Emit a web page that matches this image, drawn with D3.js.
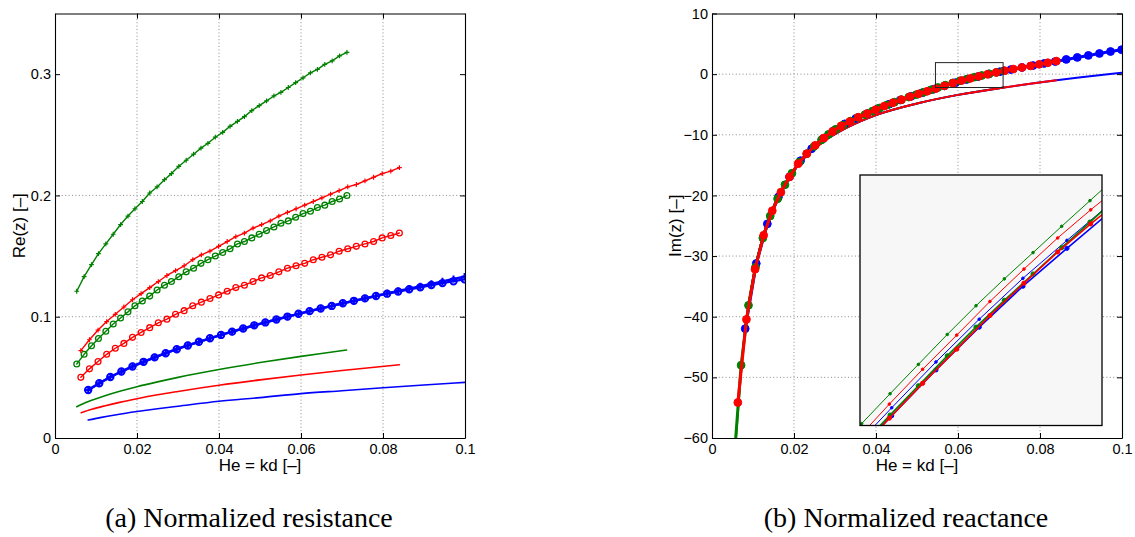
<!DOCTYPE html>
<html>
<head>
<meta charset="utf-8">
<script src="https://cdn.jsdelivr.net/npm/d3@7"></script>
<style>
  body { margin: 0; background: #fff; }
</style>
</head>
<body>
<svg id="chart" width="1135" height="537"></svg>
<script>
// ---- data -------------------------------------------------------------
const tickX = [0, 0.02, 0.04, 0.06, 0.08, 0.1];
const tickXLabels = ['0', '0.02', '0.04', '0.06', '0.08', '0.1'];
const reTicks = [0, 0.1, 0.2, 0.3];
const reTickLabels = ['0', '0.1', '0.2', '0.3'];
const imTicks = [-60, -50, -40, -30, -20, -10, 0, 10];
const imTickLabels = ['\u221260', '\u221250', '\u221240', '\u221230', '\u221220', '\u221210', '0', '10'];

const greenX = [0.0053, 0.0071, 0.0089, 0.0106, 0.0124, 0.0142, 0.0160, 0.0178, 0.0195, 0.0213,
    0.0231, 0.0249, 0.0267, 0.0284, 0.0302, 0.0320, 0.0338, 0.0356, 0.0373, 0.0391,
    0.0409, 0.0427, 0.0445, 0.0462, 0.0480, 0.0498, 0.0516, 0.0534, 0.0551, 0.0569,
    0.0587, 0.0605, 0.0623, 0.0640, 0.0658, 0.0676, 0.0694, 0.0712];
const redX = [0.0063, 0.0084, 0.0105, 0.0126, 0.0147, 0.0168, 0.0189, 0.0210, 0.0231, 0.0252,
    0.0273, 0.0294, 0.0315, 0.0336, 0.0357, 0.0378, 0.0399, 0.0420, 0.0441, 0.0462,
    0.0483, 0.0504, 0.0525, 0.0546, 0.0567, 0.0588, 0.0609, 0.0630, 0.0651, 0.0672,
    0.0693, 0.0714, 0.0735, 0.0756, 0.0777, 0.0798, 0.0819, 0.0840];
const blueX = [0.0081, 0.0108, 0.0135, 0.0162, 0.0189, 0.0216, 0.0243, 0.0270, 0.0297, 0.0324,
    0.0351, 0.0378, 0.0405, 0.0432, 0.0459, 0.0486, 0.0513, 0.0540, 0.0567, 0.0594,
    0.0621, 0.0648, 0.0675, 0.0702, 0.0729, 0.0756, 0.0783, 0.0810, 0.0837, 0.0864,
    0.0891, 0.0918, 0.0945, 0.0972, 0.0999];

// (a) resistance
const reGreenPlus = [0.121, 0.133, 0.143, 0.152, 0.160, 0.168, 0.176, 0.183, 0.189, 0.195,
    0.202, 0.207, 0.213, 0.218, 0.224, 0.229, 0.234, 0.239, 0.243, 0.248,
    0.252, 0.257, 0.261, 0.265, 0.270, 0.274, 0.278, 0.282, 0.285, 0.289,
    0.293, 0.297, 0.301, 0.304, 0.308, 0.311, 0.315, 0.318];
const reGreenCirc = [0.061, 0.069, 0.076, 0.082, 0.088, 0.094, 0.099, 0.104, 0.109, 0.113,
    0.117, 0.122, 0.126, 0.129, 0.133, 0.137, 0.140, 0.144, 0.147, 0.150,
    0.153, 0.156, 0.160, 0.162, 0.165, 0.168, 0.171, 0.174, 0.177, 0.179,
    0.182, 0.185, 0.187, 0.190, 0.192, 0.195, 0.197, 0.200];
const reRedPlus = [0.072, 0.081, 0.089, 0.096, 0.102, 0.108, 0.114, 0.119, 0.124, 0.129,
    0.134, 0.138, 0.142, 0.147, 0.151, 0.154, 0.158, 0.162, 0.166, 0.169,
    0.173, 0.176, 0.179, 0.183, 0.186, 0.189, 0.192, 0.195, 0.198, 0.201,
    0.204, 0.207, 0.209, 0.212, 0.215, 0.218, 0.220, 0.223];
const reRedCirc = [0.050, 0.057, 0.063, 0.069, 0.074, 0.078, 0.083, 0.087, 0.091, 0.095,
    0.098, 0.102, 0.105, 0.109, 0.112, 0.115, 0.118, 0.121, 0.124, 0.126,
    0.129, 0.132, 0.134, 0.137, 0.140, 0.142, 0.144, 0.147, 0.149, 0.151,
    0.154, 0.156, 0.158, 0.160, 0.162, 0.165, 0.167, 0.169];
const reBluePlus = [0.0396, 0.0452, 0.0503, 0.0548, 0.0590, 0.0628, 0.0665, 0.0699, 0.0732, 0.0763,
    0.0793, 0.0822, 0.0850, 0.0877, 0.0903, 0.0929, 0.0953, 0.0977, 0.1001, 0.1024,
    0.1046, 0.1068, 0.1089, 0.1111, 0.1131, 0.1151, 0.1171, 0.1192, 0.1212, 0.1232,
    0.1251, 0.1271, 0.1291, 0.1311, 0.1330];
const reBlueCirc = [0.0396, 0.0452, 0.0503, 0.0548, 0.0590, 0.0628, 0.0665, 0.0699, 0.0732, 0.0763,
    0.0793, 0.0822, 0.0850, 0.0877, 0.0903, 0.0929, 0.0953, 0.0977, 0.1001, 0.1024,
    0.1046, 0.1068, 0.1089, 0.1111, 0.1131, 0.1151, 0.1171, 0.1190, 0.1208, 0.1226,
    0.1243, 0.1261, 0.1277, 0.1293, 0.1308];

const reGreenLineX = [0.0053, 0.008, 0.012, 0.016, 0.02, 0.025, 0.03, 0.04, 0.05, 0.06, 0.065, 0.0711];
const reGreenLine = [0.0258, 0.0298, 0.0346, 0.0387, 0.0423, 0.0463, 0.0500, 0.0565, 0.0622, 0.0673, 0.0697, 0.0725];
const reRedLineX = [0.0064, 0.009, 0.012, 0.016, 0.02, 0.025, 0.03, 0.04, 0.05, 0.06, 0.07, 0.084];
const reRedLine = [0.0209, 0.0237, 0.0264, 0.0296, 0.0324, 0.0356, 0.0384, 0.0435, 0.0479, 0.0519, 0.0556, 0.0604];
const reBlueLineX = [0.0081, 0.011, 0.015, 0.02, 0.025, 0.03, 0.04, 0.05, 0.06, 0.07, 0.08, 0.09, 0.1];
const reBlueLine = [0.0148, 0.0168, 0.0192, 0.0218, 0.0241, 0.0262, 0.0303, 0.0333, 0.0366, 0.0390, 0.0414, 0.0437, 0.0459];

// (b) reactance
const imGreen = [-64.45, -47.99, -38.12, -31.84, -27.02, -23.39, -20.55, -18.24, -16.34, -14.52,
    -13.12, -11.91, -10.85, -9.94, -9.09, -8.41, -7.74, -7.14, -6.67, -6.11,
    -5.58, -5.09, -4.62, -4.21, -3.78, -3.38, -3.00, -2.58, -2.20, -1.82,
    -1.45, -1.10, -0.79, -0.50, -0.22, 0.05, 0.30, 0.55];
const imRed = [-54.15, -40.44, -32.16, -26.57, -22.53, -19.46, -16.94, -14.77, -13.12, -11.73,
    -10.52, -9.45, -8.52, -7.82, -7.11, -6.51, -5.87, -5.27, -4.72, -4.21,
    -3.71, -3.25, -2.82, -2.38, -1.93, -1.47, -1.05, -0.70, -0.36, -0.03,
    0.28, 0.57, 0.84, 1.10, 1.35, 1.62, 1.88, 2.15];
const imBlue = [-41.97, -31.22, -24.69, -20.26, -16.94, -14.27, -12.30, -10.68, -9.32, -8.19,
    -7.30, -6.51, -5.69, -4.96, -4.27, -3.65, -3.06, -2.50, -1.93, -1.40,
    -0.88, -0.41, 0.03, 0.40, 0.76, 1.10, 1.42, 1.76, 2.08, 2.43,
    2.76, 3.09, 3.41, 3.73, 4.03];

const imLowGreenX = [0.0053, 0.008, 0.01, 0.0125, 0.015, 0.018, 0.022, 0.027, 0.033, 0.04, 0.05, 0.06, 0.07, 0.0712];
const imLowGreen = [-65.15, -42.61, -33.74, -26.62, -21.86, -17.87, -14.21, -11.22, -8.79, -6.75, -4.84, -3.42, -2.33, -2.22];
const imLowRedX = [0.0063, 0.008, 0.01, 0.0125, 0.015, 0.018, 0.022, 0.027, 0.033, 0.04, 0.05, 0.06, 0.07, 0.084];
const imLowRed = [-54.56, -42.61, -33.74, -26.62, -21.86, -17.87, -14.21, -11.22, -8.79, -6.75, -4.84, -3.42, -2.33, -1.00];
const imLowBlueX = [0.0081, 0.01, 0.0125, 0.015, 0.018, 0.022, 0.027, 0.033, 0.04, 0.05, 0.06, 0.07, 0.084, 0.09, 0.1];
const imLowBlue = [-42.07, -33.74, -26.62, -21.86, -17.87, -14.21, -11.22, -8.79, -6.75, -4.84, -3.42, -2.33, -1.00, -0.52, 0.22];

// zoom box and inset
const zoomX = [0.0545, 0.071];
const zoomY = [-2.2, 1.9];
const insetGreenX = [0.05267, 0.05461, 0.05655, 0.05848, 0.06045, 0.06241, 0.06434, 0.0663, 0.06825, 0.07018, 0.07212];
const insetGreenThin = [-2.66, -2.17, -1.68, -1.20, -0.71, -0.24, 0.20, 0.63, 1.06, 1.48, 1.90];
const insetGreenThick = [-3.01, -2.52, -2.03, -1.55, -1.06, -0.59, -0.15, 0.28, 0.71, 1.13, 1.55];
const insetRedX = [0.0542, 0.0565, 0.05877, 0.0611, 0.06336, 0.06568, 0.06798, 0.07023, 0.0725];
const insetRedThin = [-2.45, -1.85, -1.28, -0.72, -0.17, 0.36, 0.87, 1.33, 1.77];
const insetRedThick = [-2.68, -2.08, -1.51, -0.95, -0.40, 0.13, 0.64, 1.10, 1.54];
const insetBlueX = [0.0537, 0.05666, 0.05968, 0.06263, 0.06561, 0.06861, 0.07157];
const insetBlueThin = [-2.66, -1.91, -1.16, -0.46, 0.21, 0.83, 1.43];
const insetBlueThick = [-2.79, -2.04, -1.29, -0.59, 0.08, 0.70, 1.30];

// ---- drawing ----------------------------------------------------------
const GREEN = '#008000', RED = '#ff0000', BLUE = '#0000ff';
const FONT = '"Liberation Sans", Arial, Helvetica, sans-serif';
const plotTop = 13.5, plotBottom = 438;

const svg = d3.select('#chart');
const defs = svg.append('defs');

function makePanel(id, left, right, yDomain, yTicks) {
    const x = d3.scaleLinear([0, 0.1], [left, right]);
    const y = d3.scaleLinear(yDomain, [plotBottom, plotTop]);
    const g = svg.append('g');

    defs.append('clipPath').attr('id', id)
        .append('rect')
        .attr('x', left).attr('y', plotTop)
        .attr('width', right - left).attr('height', plotBottom - plotTop);

    // dotted grid
    const grid = g.append('g')
        .attr('stroke', '#808080')
        .attr('stroke-width', 0.9)
        .attr('stroke-dasharray', '1,2.4');
    grid.selectAll('line.gx')
        .data(tickX.slice(1, -1))
        .join('line')
        .attr('x1', d => x(d)).attr('x2', d => x(d))
        .attr('y1', plotBottom).attr('y2', plotTop);
    grid.selectAll('line.gy')
        .data(yTicks.slice(1, -1))
        .join('line')
        .attr('y1', d => y(d)).attr('y2', d => y(d))
        .attr('x1', left).attr('x2', right);

    const plot = g.append('g').attr('clip-path', `url(#${id})`);
    return { x, y, g, plot, left, right };
}

function drawSeries(p, xs, ys, st) {
    const pts = xs.map((v, i) => [v, ys[i]]);
    const line = d3.line().x(d => p.x(d[0])).y(d => p.y(d[1]));
    if (st.curve) line.curve(st.curve);
    const layer = p.plot;

    layer.append('path')
        .datum(pts)
        .attr('fill', 'none')
        .attr('stroke', st.color)
        .attr('stroke-width', st.width)
        .attr('stroke-linejoin', 'round')
        .attr('stroke-linecap', 'round')
        .attr('d', line);

    if (st.marker === 'o' || st.marker === '.') {
        layer.append('g')
            .selectAll('circle')
            .data(pts)
            .join('circle')
            .attr('cx', d => p.x(d[0]))
            .attr('cy', d => p.y(d[1]))
            .attr('r', st.r)
            .attr('fill', st.marker === '.' ? st.color : 'none')
            .attr('stroke', st.color)
            .attr('stroke-width', st.mw || 1);
    } else if (st.marker === '+') {
        const s = st.r;
        layer.append('g')
            .selectAll('path')
            .data(pts)
            .join('path')
            .attr('d', d => {
                const X = p.x(d[0]), Y = p.y(d[1]);
                return `M${X - s},${Y}h${2 * s}M${X},${Y - s}v${2 * s}`;
            })
            .attr('fill', 'none')
            .attr('stroke', st.color)
            .attr('stroke-width', st.mw || 1);
    }
}

function drawAxes(p, yTicks, yLabels, yTitle, yTitleX) {
    const style = sel => {
        sel.attr('font-family', FONT).attr('font-size', 14.5);
        sel.select('.domain').attr('stroke', '#000').attr('stroke-width', 1.1);
        sel.selectAll('.tick line').attr('stroke', '#000');
        sel.selectAll('.tick text').attr('fill', '#000');
    };
    p.g.append('g')
        .attr('transform', `translate(0,${plotBottom})`)
        .call(d3.axisBottom(p.x).tickValues(tickX).tickFormat((d, i) => tickXLabels[i])
            .tickSizeInner(-5).tickSizeOuter(0).tickPadding(6))
        .call(style);
    p.g.append('g')
        .attr('transform', `translate(0,${plotTop})`)
        .call(d3.axisTop(p.x).tickValues(tickX).tickFormat('')
            .tickSizeInner(-5).tickSizeOuter(0))
        .call(style);
    p.g.append('g')
        .attr('transform', `translate(${p.left},0)`)
        .call(d3.axisLeft(p.y).tickValues(yTicks).tickFormat((d, i) => yLabels[i])
            .tickSizeInner(-5).tickSizeOuter(0).tickPadding(4))
        .call(style);
    p.g.append('g')
        .attr('transform', `translate(${p.right},0)`)
        .call(d3.axisRight(p.y).tickValues(yTicks).tickFormat('')
            .tickSizeInner(-5).tickSizeOuter(0))
        .call(style);

    p.g.append('text')
        .attr('x', (p.left + p.right) / 2)
        .attr('y', 471)
        .attr('text-anchor', 'middle')
        .attr('font-family', FONT)
        .attr('font-size', 17)
        .text('He = kd [\u2013]');

    p.g.append('text')
        .attr('transform', `translate(${yTitleX},${(plotTop + plotBottom) / 2}) rotate(-90)`)
        .attr('text-anchor', 'middle')
        .attr('font-family', FONT)
        .attr('font-size', 17)
        .text(yTitle);
}

// ---- (a) Normalized resistance -----------------------------------------
const pa = makePanel('clip-a', 55, 465, [0, 0.35], reTicks);

drawSeries(pa, reBlueLineX, reBlueLine, { color: BLUE, width: 1.6, curve: d3.curveMonotoneX });
drawSeries(pa, reRedLineX, reRedLine, { color: RED, width: 1.6, curve: d3.curveMonotoneX });
drawSeries(pa, reGreenLineX, reGreenLine, { color: GREEN, width: 1.6, curve: d3.curveMonotoneX });
drawSeries(pa, blueX, reBluePlus, { color: BLUE, width: 2.4, marker: '+', r: 3.6, mw: 2 });
drawSeries(pa, blueX, reBlueCirc, { color: BLUE, width: 2.4, marker: 'o', r: 3.2, mw: 2 });
drawSeries(pa, redX, reRedCirc, { color: RED, width: 1.4, marker: 'o', r: 2.9, mw: 1.3 });
drawSeries(pa, greenX, reGreenCirc, { color: GREEN, width: 1.4, marker: 'o', r: 2.9, mw: 1.3 });
drawSeries(pa, redX, reRedPlus, { color: RED, width: 1.4, marker: '+', r: 2.4, mw: 1.2 });
drawSeries(pa, greenX, reGreenPlus, { color: GREEN, width: 1.4, marker: '+', r: 2.4, mw: 1.2 });

drawAxes(pa, reTicks, reTickLabels, 'Re(z) [\u2013]', 25);

// ---- (b) Normalized reactance ------------------------------------------
const pb = makePanel('clip-b', 712, 1122, [-60, 10], imTicks);

drawSeries(pb, imLowGreenX, imLowGreen, { color: GREEN, width: 2, curve: d3.curveMonotoneX });
drawSeries(pb, imLowBlueX, imLowBlue, { color: BLUE, width: 2, curve: d3.curveMonotoneX });
drawSeries(pb, imLowRedX, imLowRed, { color: RED, width: 2, curve: d3.curveMonotoneX });
drawSeries(pb, blueX, imBlue, { color: BLUE, width: 3, marker: '.', r: 3.9 });
drawSeries(pb, greenX, imGreen, { color: GREEN, width: 3, marker: '.', r: 3.9 });
drawSeries(pb, redX, imRed, { color: RED, width: 3, marker: '.', r: 3.9 });

// zoom window on the main axes
pb.plot.append('rect')
    .attr('x', pb.x(zoomX[0]))
    .attr('y', pb.y(zoomY[1]))
    .attr('width', pb.x(zoomX[1]) - pb.x(zoomX[0]))
    .attr('height', pb.y(zoomY[0]) - pb.y(zoomY[1]))
    .attr('fill', 'none')
    .attr('stroke', '#222')
    .attr('stroke-width', 1);

// inset axes
const inset = { left: 860, right: 1102, top: 175, bottom: 425.5 };
const pi = {
    x: d3.scaleLinear(zoomX, [inset.left, inset.right]),
    y: d3.scaleLinear(zoomY, [inset.bottom, inset.top])
};
const insetG = pb.g.append('g');
insetG.append('rect')
    .attr('x', inset.left).attr('y', inset.top)
    .attr('width', inset.right - inset.left)
    .attr('height', inset.bottom - inset.top)
    .attr('fill', '#f7f7f7');
defs.append('clipPath').attr('id', 'clip-inset')
    .append('rect')
    .attr('x', inset.left).attr('y', inset.top)
    .attr('width', inset.right - inset.left)
    .attr('height', inset.bottom - inset.top);
pi.plot = insetG.append('g').attr('clip-path', 'url(#clip-inset)');

drawSeries(pi, insetGreenX, insetGreenThin, { color: GREEN, width: 1, marker: '.', r: 1.3 });
drawSeries(pi, insetRedX, insetRedThin, { color: RED, width: 1, marker: '.', r: 1.3 });
drawSeries(pi, insetBlueX, insetBlueThin, { color: BLUE, width: 1, marker: '.', r: 1.3 });
drawSeries(pi, insetBlueX, insetBlueThick, { color: BLUE, width: 1.6, marker: '.', r: 2.1 });
drawSeries(pi, insetGreenX, insetGreenThick, { color: GREEN, width: 1.6, marker: '.', r: 2.1 });
drawSeries(pi, insetRedX, insetRedThick, { color: RED, width: 1.6, marker: '.', r: 2.1 });

insetG.append('rect')
    .attr('x', inset.left).attr('y', inset.top)
    .attr('width', inset.right - inset.left)
    .attr('height', inset.bottom - inset.top)
    .attr('fill', 'none')
    .attr('stroke', '#000')
    .attr('stroke-width', 1.3);

drawAxes(pb, imTicks, imTickLabels, 'Im(z) [\u2013]', 681);

// ---- captions ----------------------------------------------------------
const captions = [
    { x: 249, text: '(a) Normalized resistance' },
    { x: 906, text: '(b) Normalized reactance' }
];
svg.append('g')
    .selectAll('text')
    .data(captions)
    .join('text')
    .attr('x', d => d.x)
    .attr('y', 527)
    .attr('text-anchor', 'middle')
    .attr('font-family', '"Liberation Serif", "Times New Roman", serif')
    .attr('font-size', 28)
    .text(d => d.text);
</script>
</body>
</html>
